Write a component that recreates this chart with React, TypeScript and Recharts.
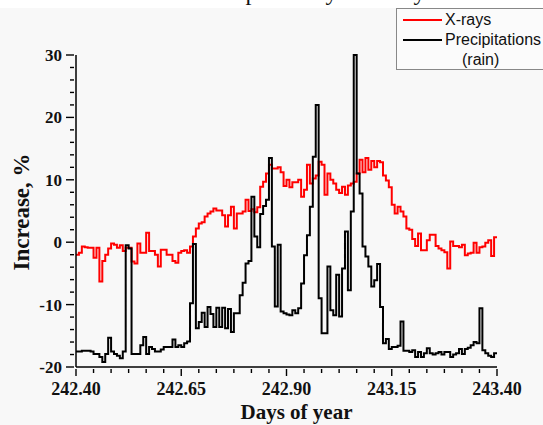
import React from 'react';
import { LineChart, Line, XAxis, YAxis, Label } from 'recharts';

// 10-minute bins over one day
const START_DAY = 242.4;
const STEP_DAYS = 1 / 144;

const X_RAYS = [
  -2.0, -1.7, -0.7, -0.8, -0.9, -0.9, -2.5, -0.9, -6.3, -3.0,
  -2.0, -1.0, -0.2, -0.4, -0.9, -0.5, -1.4, -0.9, -0.9, -3.1,
  -3.4, -0.2, -1.7, -1.7, 1.5, -1.4, -1.4, -2.0, -3.9, -1.2,
  -1.2, -2.0, -2.0, -3.0, -3.3, -1.7, -1.4, -1.3, -1.7, -0.7,
  0.9, 2.2, 3.0, 3.2, 4.1, 4.6, 4.9, 5.4, 5.1, 5.1,
  4.3, 2.5, 4.3, 5.7, 2.2, 4.6, 4.6, 4.9, 6.8, 5.0,
  5.3, 4.8, 5.6, 8.9, 9.7, 11.0, 12.4, 11.8, 11.8, 12.0,
  11.2, 9.0, 10.0, 8.8, 9.6, 9.6, 10.0, 7.3, 8.4, 12.4,
  9.4, 10.2, 10.7, 12.9, 12.4, 7.6, 11.0, 10.0, 9.4, 8.4,
  7.9, 8.9, 7.6, 9.1, 9.4, 9.7, 11.0, 13.2, 11.2, 13.5,
  11.6, 13.0, 12.0, 13.0, 12.8, 10.7, 9.9, 8.8, 6.0, 4.6,
  5.7, 4.9, 4.1, 2.2, 2.0, 0.5, -0.6, 1.4, -1.3, -1.3,
  0.3, 1.2, 1.2, -0.6, -1.0, -1.3, -1.6, -4.2, 0.1, -0.6,
  -0.6, -0.8, -0.4, -2.1, -1.8, -1.7, -0.1, -1.7, -0.8, -0.7,
  -0.1, 0.3, -2.2, 0.8, 0.8,
];

const PRECIP = [
  -17.5, -17.5, -17.4, -17.4, -17.4, -17.5, -17.9, -17.9, -18.4, -19.2,
  -17.9, -15.3, -17.5, -17.9, -18.2, -18.6, -17.5, -0.5, -1.0, -17.9,
  -17.9, -17.9, -16.5, -15.2, -17.9, -16.8, -17.1, -17.5, -17.5, -17.2,
  -16.8, -16.8, -16.8, -15.6, -16.8, -16.5, -16.8, -16.2, -15.9, -9.8,
  -0.3, -13.8, -12.8, -11.3, -13.6, -10.4, -11.5, -13.6, -10.5, -13.6,
  -10.5, -13.8, -10.7, -14.4, -11.4, -11.4, -8.5, -6.5, -3.4, -3.0,
  7.3, 0.9, -0.8, 4.5, 5.8, 6.8, 13.5, -0.7, -10.3, -0.4,
  -11.1, -11.4, -11.6, -11.7, -10.9, -11.4, -10.6, -6.6, -2.1, 1.1,
  5.7, 13.7, 22.0, -9.0, -14.6, -14.6, -3.9, -10.9, -11.7, -5.2,
  -11.9, -4.2, 1.7, -7.7, 4.9, 30.0, 11.0, 7.8, -0.7, -2.3,
  -3.9, -7.1, -6.1, -3.5, -10.4, -16.2, -15.5, -17.1, -16.8, -16.8,
  -16.6, -12.7, -17.4, -17.4, -17.6, -17.3, -18.4, -17.6, -18.4, -17.8,
  -17.0, -17.8, -18.0, -17.8, -17.6, -18.0, -17.6, -17.6, -18.4, -18.0,
  -17.8, -17.1, -17.9, -17.1, -16.9, -16.5, -16.0, -16.2, -10.6, -17.3,
  -17.8, -18.2, -18.4, -17.8, -17.8,
];

const MAJOR_X = [242.4, 242.65, 242.9, 243.15, 243.4];
const MAJOR_Y = [-20, -10, 0, 10, 20, 30];
// minor ticks: every hour on x, every 2 % on y
const X_TICKS = Array.from({ length: 25 }, (_, k) => START_DAY + k / 24);
const Y_TICKS = Array.from({ length: 26 }, (_, k) => -20 + 2 * k);

const SERIES = [
  { key: 'xrays', name: 'X-rays', color: '#f00' },
  { key: 'rain', name: 'Precipitations', sub: '(rain)', color: '#000' },
];

const chartData = X_RAYS.map((v, i) => ({
  day: START_DAY + i * STEP_DAYS,
  xrays: v,
  rain: PRECIP[i],
}));

const SERIF = '"Liberation Serif", "Times New Roman", serif';
const SANS = '"Liberation Sans", Arial, sans-serif';

const XTick = ({ x, y, payload }: any) => {
  const major = MAJOR_X.some((m) => Math.abs(m - payload.value) < 1e-6);
  return (
    <g>
      <line x1={x} x2={x} y1={y} y2={y + (major ? 7 : 4)} stroke="#000" strokeWidth={1.4} />
      {major && (
        <text x={x} y={y + 26} textAnchor="middle" fontFamily={SERIF} fontWeight="bold" fontSize={18} fill="#111">
          {payload.value.toFixed(2)}
        </text>
      )}
    </g>
  );
};

const YTick = ({ x, y, payload }: any) => {
  const major = MAJOR_Y.includes(payload.value);
  return (
    <g>
      <line x1={x} x2={x - (major ? 8 : 4)} y1={y} y2={y} stroke="#000" strokeWidth={1.4} />
      {major && (
        <text x={x - 12} y={y + 6} textAnchor="end" fontFamily={SERIF} fontWeight="bold" fontSize={17} fill="#111">
          {payload.value}
        </text>
      )}
    </g>
  );
};

const LegendBox = () => (
  <div
    style={{
      position: 'absolute',
      left: 396,
      top: 8,
      width: 160,
      height: 62,
      border: '1px solid #888',
      boxSizing: 'border-box',
      background: '#fbfbfb',
      fontFamily: SANS,
      fontSize: 16,
      color: '#111',
    }}
  >
    {SERIES.map((s, i) => (
      <div key={s.key} style={{ position: 'absolute', left: 6, top: 2 + i * 20, display: 'flex', alignItems: 'center', height: 18 }}>
        <div style={{ width: 39, height: 2, background: s.color, marginRight: 3 }} />
        <span style={{ whiteSpace: 'nowrap' }}>{s.name}</span>
      </div>
    ))}
    <div style={{ position: 'absolute', left: 65, top: 42, height: 18, lineHeight: '18px' }}>{SERIES[1].sub}</div>
  </div>
);

export default function App() {
  return (
    <div style={{ position: 'absolute', left: 0, top: 0, width: 543, height: 425, background: '#f8f8f8', overflow: 'hidden' }}>
      <div style={{ position: 'absolute', left: 0, top: 0, width: 543, height: 8, background: '#fff' }} />
      <svg width={543} height={10} style={{ position: 'absolute', left: 0, top: 0 }}>
        <text x={167} y={0} fontFamily={SERIF} fontSize={24} fill="#111">
          Time dependency of X-rays and rain
        </text>
      </svg>
      <div style={{ position: 'absolute', left: 0, top: 0 }}>
        <LineChart width={543} height={425} data={chartData} margin={{ top: 55, right: 46, bottom: 0, left: 0 }}>
          <XAxis
            dataKey="day"
            type="number"
            domain={[242.4, 243.4]}
            ticks={X_TICKS}
            interval={0}
            height={58}
            tickSize={0}
            tickLine={false}
            axisLine={{ stroke: '#000', strokeWidth: 1.5 }}
            tick={<XTick />}
          >
            <Label
              content={({ viewBox }: any) => {
                const vb = viewBox || { x: 76, y: 367, width: 421, height: 58 };
                return (
                  <text x={vb.x + vb.width / 2 + 10} y={vb.y + 52} textAnchor="middle" fontFamily={SERIF} fontWeight="bold" fontSize={21} fill="#111">
                    Days of year
                  </text>
                );
              }}
            />
          </XAxis>
          <YAxis
            type="number"
            domain={[-20, 30]}
            ticks={Y_TICKS}
            interval={0}
            width={76}
            tickSize={0}
            tickLine={false}
            axisLine={{ stroke: '#000', strokeWidth: 1.5 }}
            tick={<YTick />}
          >
            <Label
              content={({ viewBox }: any) => {
                const vb = viewBox || { x: 0, y: 55, width: 76, height: 312 };
                const cy = vb.y + vb.height / 2 + 1;
                return (
                  <text x={29} y={cy} transform={`rotate(-90, 29, ${cy})`} textAnchor="middle" fontFamily={SERIF} fontWeight="bold" fontSize={23} fill="#111">
                    Increase, %
                  </text>
                );
              }}
            />
          </YAxis>
          {SERIES.map((s) => (
            <Line
              key={s.key}
              type="stepAfter"
              dataKey={s.key}
              name={s.name}
              stroke={s.color}
              strokeWidth={2}
              dot={false}
              isAnimationActive={false}
            />
          ))}
        </LineChart>
      </div>
      <LegendBox />
    </div>
  );
}
